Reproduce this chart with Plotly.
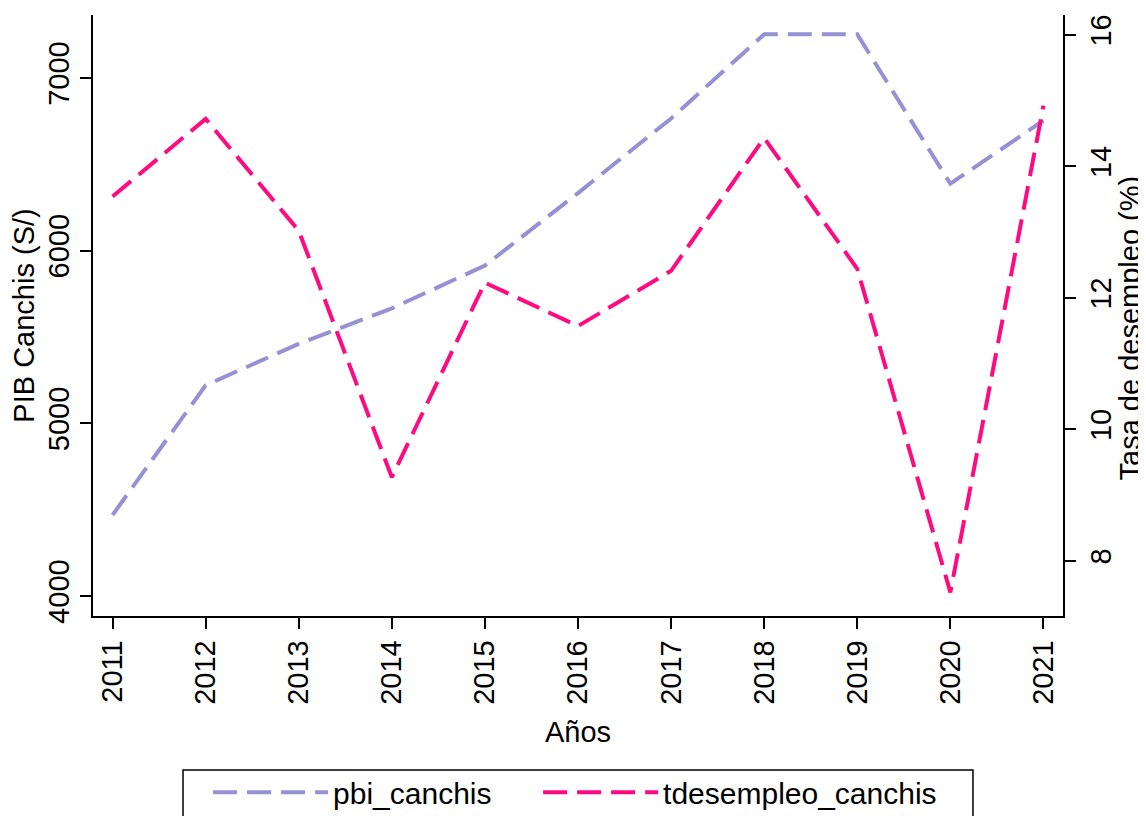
import plotly.graph_objects as go

years = [2011, 2012, 2013, 2014, 2015, 2016, 2017, 2018, 2019, 2020, 2021]
pbi_canchis = [4469, 5220, 5460, 5665, 5913, 6333, 6765, 7252, 7252, 6387, 6753]
tdesempleo_canchis = [13.54, 14.72, 13.02, 9.27, 12.23, 11.57, 12.41, 14.43, 12.44, 7.52, 14.92]

left_ticks = [4000, 5000, 6000, 7000]
right_ticks = [8, 10, 12, 14, 16]

FONT = "Liberation Sans, Arial, Helvetica, sans-serif"
LAV = "#9690D4"
PINK = "#FF0A80"
FS = 29

fig = go.Figure()
fig.add_trace(go.Scatter(x=years, y=pbi_canchis, name="pbi_canchis", mode="lines",
                         legendwidth=200,
                         line=dict(color=LAV, width=4, dash="24px,10px")))
fig.add_trace(go.Scatter(x=years, y=tdesempleo_canchis, name="tdesempleo_canchis", mode="lines",
                         yaxis="y2", line=dict(color=PINK, width=4, dash="24px,10px")))

axis_common = dict(showline=True, linecolor="black", linewidth=1.5, ticks="outside",
                   ticklen=11, tickwidth=1.5, tickcolor="black", showgrid=False, zeroline=False,
                   tickfont=dict(family=FONT, size=FS, color="black"))

# page body has an 8px default margin; figure sized to fill the rest of the window
fig.update_layout(
    width=1138, height=808,
    margin=dict(l=85, r=83, t=7, b=200, autoexpand=False),
    plot_bgcolor="white", paper_bgcolor="white",
    font=dict(family=FONT, size=FS, color="black"),
    xaxis=dict(range=[2010.79, 2021.21], tickvals=years, tickangle=-90,
               title=dict(text="Años", font=dict(family=FONT, size=FS), standoff=18),
               **axis_common),
    yaxis=dict(range=[3884, 7364], tickvals=left_ticks, tickangle=-90,
               title=dict(text="PIB Canchis (S/)", font=dict(family=FONT, size=FS), standoff=4),
               **axis_common),
    yaxis2=dict(range=[7.16, 16.30], tickvals=right_ticks, tickangle=-90, overlaying="y",
                side="right", **axis_common),
    legend=dict(orientation="h", x=0.497, xanchor="center", y=-0.25, yanchor="top",
                bgcolor="rgba(0,0,0,0)", borderwidth=0, itemwidth=115,
                font=dict(family=FONT, size=30, color="black")),
    shapes=[dict(type="rect", xref="paper", yref="paper", x0=0.0928, x1=0.9072,
                 y0=-0.2562, y1=-0.40, line=dict(color="black", width=1.5),
                 fillcolor="rgba(0,0,0,0)", layer="below")],
    annotations=[dict(text="Tasa de desempleo (%)", textangle=-90, xref="paper", yref="paper",
                      x=1.069, y=0.48, xanchor="center", yanchor="middle", showarrow=False,
                      font=dict(family=FONT, size=FS, color="black"))],
)

fig.write_html("out.html")
